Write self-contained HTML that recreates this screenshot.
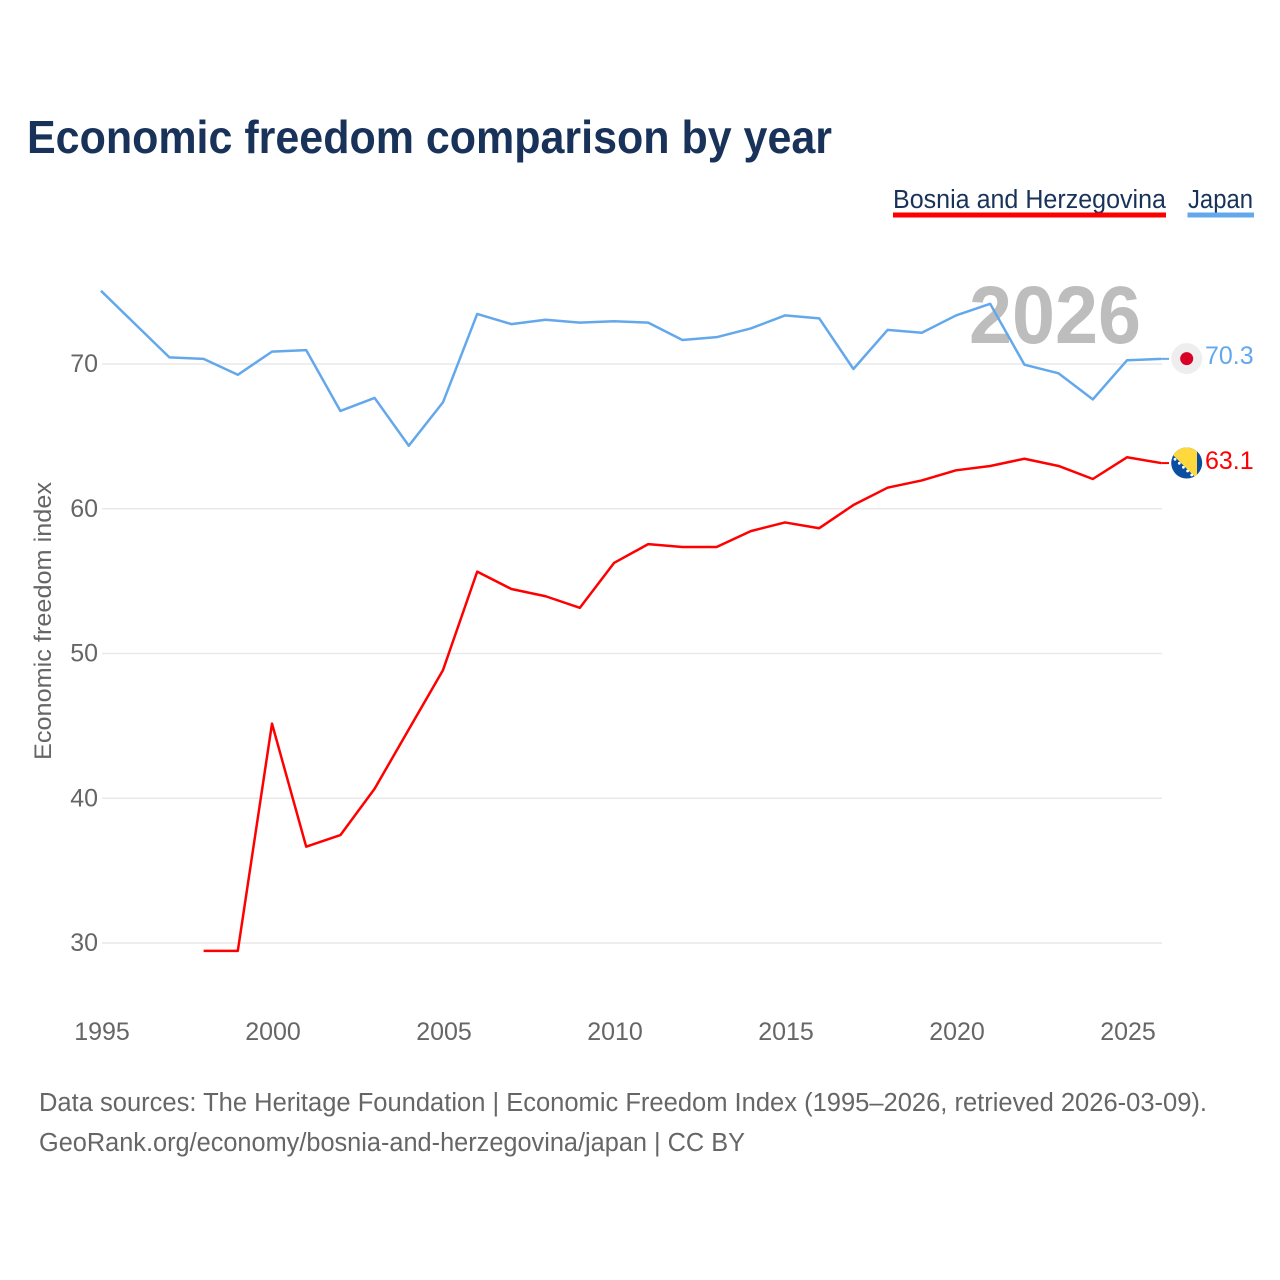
<!DOCTYPE html>
<html lang="en">
<head>
<meta charset="utf-8">
<title>Economic freedom comparison by year</title>
<style>
html,body{margin:0;padding:0;background:#fff;width:1280px;height:1280px;overflow:hidden}
svg{display:block;font-family:"Liberation Sans",sans-serif}
</style>
</head>
<body>
<svg id="chart" width="1280" height="1280" viewBox="0 0 1280 1280" xmlns="http://www.w3.org/2000/svg">
  <defs>
    <clipPath id="clip-ba"><circle cx="1186.7" cy="463" r="15.5"/></clipPath>
    <clipPath id="clip-jp"><circle cx="1186.7" cy="358.6" r="15.5"/></clipPath>
  </defs>
  <text x="27" y="153" font-size="46" font-weight="700" fill="#18325a" textLength="805" lengthAdjust="spacingAndGlyphs">Economic freedom comparison by year</text>

  <g>
    <g>
      <text x="893" y="208" font-size="25.5" fill="#18325a" textLength="273" lengthAdjust="spacingAndGlyphs">Bosnia and Herzegovina</text>
      <rect x="893" y="212.5" width="273" height="5" fill="#ff0000"/>
    </g>
    <g>
      <text x="1188" y="208" font-size="25.5" fill="#18325a" textLength="65" lengthAdjust="spacingAndGlyphs">Japan</text>
      <rect x="1187.5" y="212.5" width="66.5" height="5" fill="#64a8ec"/>
    </g>
  </g>

  <g id="grid"></g>
  <g id="y-ticks"></g>
  <g id="x-ticks"></g>

  <text transform="translate(51,621) rotate(-90)" text-anchor="middle" font-size="24.5" fill="#666666" textLength="278" lengthAdjust="spacingAndGlyphs">Economic freedom index</text>

  <text id="year-label" x="969" y="343" font-size="82" font-weight="700" fill="#bdbdbd" textLength="172" lengthAdjust="spacingAndGlyphs">2026</text>

  <g id="series"></g>

  <g clip-path="url(#clip-jp)">
    <rect x="1171" y="343" width="32" height="32" fill="#eeeeee"/>
    <circle cx="1186.7" cy="358.6" r="6.5" fill="#d80027"/>
  </g>
  <g clip-path="url(#clip-ba)">
    <rect x="1171" y="447" width="32" height="32" fill="#0a4ea2"/>
    <polygon points="1165,447 1197,447 1197,479" fill="#ffd83d"/>
    <g fill="#ffffff">
      <circle cx="1175" cy="459.3" r="1.4"/>
      <circle cx="1179.3" cy="463.3" r="1.4"/>
      <circle cx="1183.4" cy="467.3" r="1.4"/>
      <circle cx="1187.6" cy="471" r="1.4"/>
      <circle cx="1191.7" cy="475" r="1.4"/>
    </g>
  </g>

  <g id="value-labels"></g>

  <g>
    <text x="39" y="1111" font-size="25.5" fill="#666666" textLength="1168" lengthAdjust="spacingAndGlyphs">Data sources: The Heritage Foundation | Economic Freedom Index (1995–2026, retrieved 2026-03-09).</text>
    <text x="39" y="1151" font-size="25.5" fill="#666666" textLength="706" lengthAdjust="spacingAndGlyphs">GeoRank.org/economy/bosnia-and-herzegovina/japan | CC BY</text>
  </g>
</svg>

<script>
const years = [1995,1996,1997,1998,1999,2000,2001,2002,2003,2004,2005,2006,2007,2008,2009,2010,2011,2012,2013,2014,2015,2016,2017,2018,2019,2020,2021,2022,2023,2024,2025,2026];
const japanValues = [75.0,72.7,70.4,70.3,69.2,70.8,70.9,66.7,67.6,64.3,67.3,73.4,72.7,73.0,72.8,72.9,72.8,71.6,71.8,72.4,73.3,73.1,69.6,72.3,72.1,73.3,74.1,69.9,69.3,67.5,70.2,70.3];
const bosniaValues = [null,null,null,29.4,29.4,45.1,36.6,37.4,40.6,44.7,48.8,55.6,54.4,53.9,53.1,56.2,57.5,57.3,57.3,58.4,59.0,58.6,60.2,61.4,61.9,62.6,62.9,63.4,62.9,62.0,63.5,63.1];
const yTickValues = [30,40,50,60,70];
const xTickValues = [1995,2000,2005,2010,2015,2020,2025];

const NS = 'http://www.w3.org/2000/svg';
function xScale(year){ return 102 + (year - 1995) * 34.2; }
function yScale(value){ return 943 - (value - 30) * 14.475; }
function markX(year){ return xScale(year) - 1; }
function markY(value){ return yScale(value) - 0.8; }
function make(tag, attrs, parent){
  const el = document.createElementNS(NS, tag);
  for (const k in attrs) el.setAttribute(k, attrs[k]);
  parent.appendChild(el);
  return el;
}

const gridGroup = document.getElementById('grid');
const yTickGroup = document.getElementById('y-ticks');
yTickValues.forEach(function(v){
  const line = make('line', {x1:102, x2:1162, y1:yScale(v), y2:yScale(v), stroke:'#e9e9e9', 'stroke-width':1.5}, gridGroup);
  
  
  const label = make('text', {x:98, y:yScale(v)+8, 'text-anchor':'end', 'font-size':25, fill:'#666666'}, yTickGroup);
  
  
  label.textContent = v;
});

const xTickGroup = document.getElementById('x-ticks');
xTickValues.forEach(function(y){
  const label = make('text', {x:xScale(y), y:1040, 'text-anchor':'middle', 'font-size':25, fill:'#666666'}, xTickGroup);
  
  
  label.textContent = y;
});

function pathFor(values){
  let d = '';
  let started = false;
  values.forEach(function(v, i){
    if (v === null) return;
    d += (started ? 'L' : 'M') + markX(years[i]).toFixed(2) + ' ' + markY(v).toFixed(2);
    started = true;
  });
  return d;
}

const seriesGroup = document.getElementById('series');
const valueGroup = document.getElementById('value-labels');

const japanLine = make('path', {d:pathFor(japanValues), fill:'none', stroke:'#64a8ec', 'stroke-width':2.5, 'stroke-linejoin':'round'}, seriesGroup);



const bosniaLine = make('path', {d:pathFor(bosniaValues), fill:'none', stroke:'#ff0000', 'stroke-width':2.5, 'stroke-linejoin':'round'}, seriesGroup);



const japanLast = japanValues[japanValues.length - 1];
const bosniaLast = bosniaValues[bosniaValues.length - 1];
const lastYear = years[years.length - 1];

const japanLeader = make('line', {x1:markX(lastYear), x2:1169, y1:markY(japanLast), y2:markY(japanLast), stroke:'#64a8ec', 'stroke-width':2}, seriesGroup);



const bosniaLeader = make('line', {x1:markX(lastYear), x2:1169, y1:markY(bosniaLast), y2:markY(bosniaLast), stroke:'#ff0000', 'stroke-width':2}, seriesGroup);



const japanValueLabel = make('text', {x:1205, y:364, 'font-size':25, fill:'#64a8ec'}, valueGroup);


japanValueLabel.textContent = japanLast.toFixed(1);

const bosniaValueLabel = make('text', {x:1205, y:469, 'font-size':25, fill:'#ff0000'}, valueGroup);


bosniaValueLabel.textContent = bosniaLast.toFixed(1);
</script>
</body>
</html>
